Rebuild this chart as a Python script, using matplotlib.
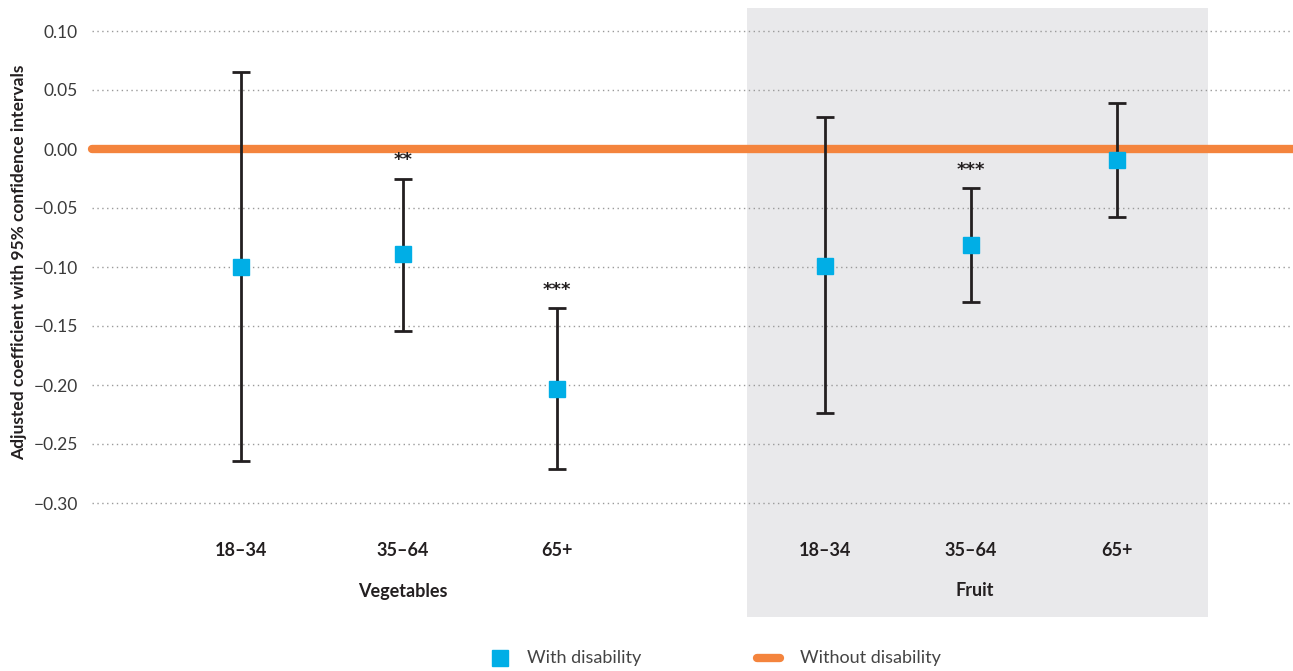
import matplotlib
matplotlib.use("Agg")
import matplotlib.pyplot as plt
from matplotlib.lines import Line2D
from matplotlib.patches import Rectangle
import numpy as np

plt.rcParams['font.family'] = ['Lato', 'DejaVu Sans']

# ---- data ----
groups = ["Vegetables", "Fruit"]
age_labels = ["18\u201334", "35\u201364", "65+", "18\u201334", "35\u201364", "65+"]
coef = [-0.100, -0.089, -0.203, -0.099, -0.081, -0.009]
ci_low = [-0.264, -0.154, -0.271, -0.224, -0.130, -0.058]
ci_high = [0.065, -0.025, -0.135, 0.027, -0.033, 0.039]
signif = ["", "**", "***", "", "***", ""]
yticks = [0.10, 0.05, 0.00, -0.05, -0.10, -0.15, -0.20, -0.25, -0.30]
legend_labels = ["With disability", "Without disability"]

# ---- layout ----
xpos = [2.41, 4.03, 5.57, 8.25, 9.71, 11.17]
W, H = 1293, 671
fig = plt.figure(figsize=(W / 100, H / 100), dpi=100)
ax_left, ax_right, ax_top, ax_bot = 92, 1293, 8, 517
ax = fig.add_axes([ax_left / W, 1 - ax_bot / H, (ax_right - ax_left) / W, (ax_bot - ax_top) / H])
ax.set_facecolor('none')
ax.set_xlim(0.92, 12.93)
ax.set_ylim(-0.30 - 14 / 1180, 0.10 + 23 / 1180)

BLUE = '#00AEE6'
ORANGE = '#F4843D'
INK = '#231F20'

# grey panel for Fruit (extends below axes)
ybot_ax = (ax_bot - 617) / (ax_bot - ax_top)
ax.add_patch(Rectangle((7.47, ybot_ax), 12.08 - 7.47, 1 - ybot_ax,
                       transform=ax.get_xaxis_transform(), facecolor='#E9E9EB',
                       edgecolor='none', clip_on=False, zorder=0))

# gridlines
for yv in yticks:
    ax.axhline(yv, color='#9A9A9A', lw=1.0, ls=(0, (1, 2.5)), zorder=1)

# reference line: without disability
ax.plot([0.92, 12.93], [0, 0], color=ORANGE, lw=6, solid_capstyle='round', zorder=2, clip_on=False)

# error bars and points
c = np.array(coef)
yerr = np.vstack([c - np.array(ci_low), np.array(ci_high) - c])
ax.errorbar(xpos, coef, yerr=yerr, fmt='none', ecolor=INK, elinewidth=2,
            capsize=6.5, capthick=2, zorder=3)
ax.plot(xpos, coef, ls='none', marker='s', ms=12, color=BLUE, zorder=4)

for x, hi, s in zip(xpos, ci_high, signif):
    if s:
        ax.annotate(s, (x, hi), xytext=(0, 13), textcoords='offset points',
                    ha='center', va='center', fontsize=13, fontweight='bold',
                    color=INK, family='DejaVu Sans')

# axes styling
for sp in ax.spines.values():
    sp.set_visible(False)
ax.set_yticks(yticks)
ax.set_yticklabels([f"{v:.2f}".replace('-', '\u2212') if v != 0 else "0.00" for v in yticks])
ax.tick_params(axis='y', length=0, pad=10, labelsize=12.5, labelcolor='#3A3A3A')
ax.set_xticks(xpos)
ax.set_xticklabels(age_labels, fontsize=13, fontweight='bold', color=INK)
ax.tick_params(axis='x', length=0, pad=18)

ax.set_ylabel("Adjusted coefficient with 95% confidence intervals", fontsize=12.5,
              fontweight='bold', color=INK, labelpad=5)

# group labels
group_x = [xpos[1], 9.75]
for gx, g in zip(group_x, groups):
    ax.text(gx, 1 - (591 - ax_top) / (ax_bot - ax_top), g, transform=ax.get_xaxis_transform(),
            ha='center', va='center', fontsize=13, fontweight='bold', color=INK)

# legend (drawn manually in figure pixels)
ly = 1 - 658 / H
fig.add_artist(Line2D([500 / W], [ly], ls='none', marker='s', ms=11.5, color=BLUE))
fig.text(527 / W, ly, legend_labels[0], ha='left', va='center', fontsize=13, color='#444444')
fig.add_artist(Line2D([757 / W, 780 / W], [ly, ly], color=ORANGE, lw=6, solid_capstyle='round'))
fig.text(800 / W, ly, legend_labels[1], ha='left', va='center', fontsize=13, color='#444444')

fig.savefig("out.png", dpi=100)
